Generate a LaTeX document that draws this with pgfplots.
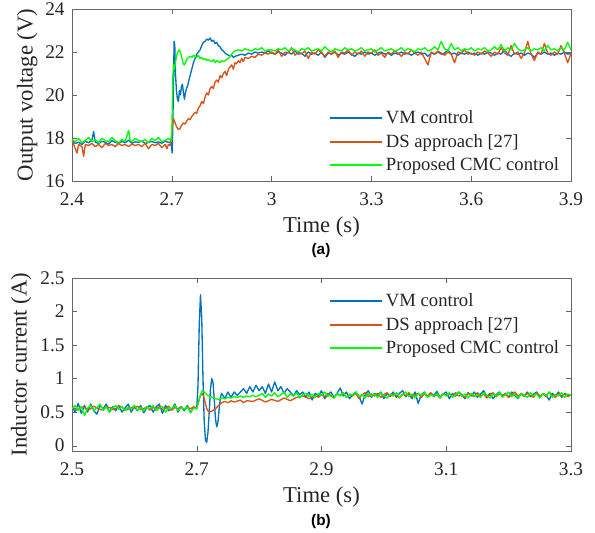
\documentclass[border=0pt]{standalone}
\usepackage{fontspec}
\setmainfont{Liberation Serif}
\newfontfamily\arial{Liberation Sans}
\usepackage{pgfplots}
\pgfplotsset{compat=1.18}
\definecolor{vmblue}{RGB}{0,114,189}
\definecolor{dsorange}{RGB}{217,83,25}
\definecolor{cmcgreen}{RGB}{0,255,0}
\pgfplotsset{
  panel/.style={scale only axis, width=374.25pt,
    axis line style={black!60}, tick style={black!60}, major tick length=4pt,
    tick label style={font=\rmfamily\fontsize{14.5}{16}\selectfont, text=black!85},
    xticklabel style={yshift=-5pt}, yticklabel style={xshift=-2pt},
    label style={font=\rmfamily\fontsize{17}{19}\selectfont, text=black!85},
    xlabel style={at={(axis description cs:0.5,0)}, anchor=center, yshift=-34.5pt},
    legend style={draw=none, fill=none, inner sep=0pt, row sep=2.2pt,
      font=\rmfamily\fontsize{14}{16}\selectfont, text=black!85},
    legend cell align=left,
    legend image code/.code={\draw[##1,line width=1.5pt] (0pt,0pt) -- (39pt,0pt);},
    every axis plot/.append style={line width=1pt, line join=round},
  }
}
\begin{document}
\begin{tikzpicture}
\useasboundingbox (-54pt,-263.25pt) rectangle (392.25pt,135.75pt);
% (a) output voltage
\begin{axis}[panel, at={(0pt,0pt)}, anchor=south west, height=129pt,
  xmin=2.4, xmax=3.9, ymin=16, ymax=24,
  xtick={2.4,2.7,3,3.3,3.6,3.9}, xticklabels={2.4,2.7,3,3.3,3.6,3.9},
  ytick={16,18,20,22,24}, yticklabels={16,18,20,22,24},
  xlabel={Time (s)}, ylabel={Output voltage (V)},
  ylabel style={at={(axis description cs:-0.09,0.5)}, anchor=center},
  legend style={at={(axis description cs:0.515,0.425)}, anchor=north west}]
\addplot[vmblue] coordinates {
(2.40,17.85) (2.41,17.75) (2.42,17.8) (2.43,17.7) (2.44,17.85) (2.45,17.78) (2.46,17.9) (2.465,18.3) (2.47,17.8) (2.48,17.75)
(2.49,17.85) (2.50,17.8) (2.51,17.72) (2.52,17.88) (2.53,17.8) (2.54,17.76) (2.55,17.84) (2.56,17.78) (2.57,17.9) (2.58,17.75)
(2.59,17.82) (2.60,17.8) (2.61,17.86) (2.62,17.74) (2.63,17.8) (2.64,17.84) (2.65,17.78) (2.66,17.82) (2.67,17.76) (2.68,17.85)
(2.69,17.8) (2.698,17.8) (2.701,17.3) (2.703,18.5) (2.705,20.5) (2.707,22.5) (2.709,22.3) (2.711,21.0) (2.714,20.2) (2.717,19.8)
(2.72,19.7) (2.723,20.2) (2.726,20.0) (2.729,20.4) (2.732,20.5) (2.735,20.1) (2.738,19.8) (2.741,20.1) (2.744,20.3) (2.747,20.4)
(2.75,20.6) (2.755,20.9) (2.76,21.2) (2.765,21.5) (2.77,21.7) (2.775,21.9) (2.78,22.0) (2.785,22.1) (2.79,22.3) (2.795,22.45)
(2.80,22.5) (2.805,22.6) (2.81,22.55) (2.815,22.65) (2.82,22.5) (2.825,22.55) (2.83,22.4) (2.835,22.45) (2.84,22.3) (2.845,22.25)
(2.85,22.1) (2.855,22.05) (2.86,21.95) (2.865,21.9) (2.87,21.85) (2.875,21.8) (2.88,21.85) (2.885,21.75) (2.89,21.8) (2.90,21.85)
(2.91,21.9) (2.92,21.85) (2.93,21.95) (2.94,21.9) (2.95,22.0) (2.96,21.95) (2.97,22.0) (2.98,21.95) (2.99,22.05) (3.00,21.95)
(3.01,21.9) (3.02,22.0) (3.03,21.95) (3.04,21.85) (3.05,22.0) (3.06,21.9) (3.07,22.05) (3.08,21.9) (3.09,21.95) (3.10,21.8)
(3.11,22.0) (3.12,21.9) (3.13,21.95) (3.14,21.85) (3.15,22.0) (3.16,21.75) (3.17,21.95) (3.18,21.9) (3.19,22.0) (3.20,21.85)
(3.21,21.95) (3.22,21.9) (3.23,22.0) (3.24,21.9) (3.25,21.8) (3.26,21.95) (3.27,21.9) (3.28,22.0) (3.29,21.9) (3.30,21.95)
(3.31,21.85) (3.32,21.95) (3.33,22.0) (3.34,21.9) (3.35,21.95) (3.36,21.85) (3.37,21.95) (3.38,21.9) (3.39,22.0) (3.40,21.9)
(3.41,21.95) (3.42,21.85) (3.43,21.95) (3.44,22.0) (3.45,21.9) (3.46,21.95) (3.47,21.8) (3.48,21.95) (3.49,21.9) (3.50,22.0)
(3.51,21.9) (3.52,21.95) (3.53,22.1) (3.54,21.9) (3.55,21.95) (3.56,21.85) (3.57,21.95) (3.58,21.9) (3.59,22.0) (3.60,21.9)
(3.61,21.95) (3.62,21.85) (3.63,21.95) (3.64,21.9) (3.65,22.0) (3.66,21.95) (3.67,21.85) (3.68,21.95) (3.69,21.9) (3.70,22.1)
(3.71,21.9) (3.72,21.8) (3.73,21.95) (3.74,21.9) (3.75,21.95) (3.76,21.85) (3.77,21.95) (3.78,21.9) (3.79,21.75) (3.80,21.95)
(3.81,21.9) (3.82,22.0) (3.83,21.9) (3.84,21.95) (3.85,21.85) (3.86,21.95) (3.87,21.9) (3.88,22.0) (3.89,21.9) (3.90,21.95)};
\addlegendentry{VM control}
\addplot[dsorange] coordinates {
(2.40,17.9) (2.41,17.5) (2.415,17.3) (2.42,17.7) (2.43,17.6) (2.435,17.15) (2.44,17.7) (2.45,17.65) (2.46,17.75) (2.47,17.6)
(2.48,17.7) (2.49,17.55) (2.50,17.75) (2.51,17.65) (2.52,17.7) (2.53,17.6) (2.54,17.75) (2.55,17.65) (2.56,17.7) (2.57,17.6)
(2.58,17.72) (2.59,17.65) (2.60,17.7) (2.61,17.6) (2.62,17.75) (2.63,17.5) (2.64,17.7) (2.65,17.65) (2.66,17.75) (2.67,17.55)
(2.68,17.7) (2.685,17.5) (2.69,17.7) (2.695,17.65) (2.70,18.2) (2.702,18.6) (2.705,18.9) (2.71,18.7) (2.715,18.5) (2.72,18.4)
(2.725,18.45) (2.73,18.6) (2.735,18.7) (2.74,18.65) (2.745,18.8) (2.75,18.9) (2.755,18.85) (2.76,19.0) (2.765,19.1) (2.77,19.2)
(2.775,19.15) (2.78,19.4) (2.785,19.5) (2.79,19.7) (2.795,19.6) (2.80,19.9) (2.805,20.1) (2.81,20.0) (2.815,20.3) (2.82,20.4)
(2.825,20.3) (2.83,20.6) (2.835,20.7) (2.84,20.6) (2.845,20.9) (2.85,20.8) (2.855,21.0) (2.86,21.1) (2.865,20.9) (2.87,21.2)
(2.875,21.3) (2.88,21.4) (2.885,21.2) (2.89,21.5) (2.895,21.45) (2.90,21.6) (2.905,21.5) (2.91,21.7) (2.915,21.55) (2.92,21.75)
(2.93,21.7) (2.94,21.8) (2.95,21.75) (2.96,21.9) (2.97,21.85) (2.98,21.95) (2.99,21.9) (3.00,22.0)
(3.01,21.9) (3.02,22.1) (3.03,21.8) (3.04,22.0) (3.05,21.95) (3.06,22.2) (3.07,21.85) (3.08,22.0) (3.09,21.9) (3.10,22.05)
(3.11,21.7) (3.12,22.0) (3.13,21.9) (3.14,22.1) (3.15,21.95) (3.16,21.8) (3.17,22.0) (3.18,21.9) (3.19,22.05) (3.20,21.75)
(3.21,22.0) (3.22,21.95) (3.23,22.1) (3.24,21.85) (3.25,22.0) (3.26,21.9) (3.27,22.05) (3.28,21.8) (3.29,22.0) (3.30,21.95)
(3.31,22.1) (3.32,21.85) (3.33,21.95) (3.34,21.75) (3.35,22.0) (3.36,21.9) (3.37,22.05) (3.38,21.95) (3.39,21.8) (3.40,22.0)
(3.41,21.9) (3.42,22.1) (3.43,21.95) (3.44,21.85) (3.45,22.0) (3.46,21.7) (3.47,21.4) (3.48,22.0) (3.49,21.9) (3.50,22.05)
(3.51,21.95) (3.52,21.85) (3.53,22.0) (3.54,21.9) (3.55,21.5) (3.56,22.0) (3.57,21.95) (3.58,22.1) (3.59,21.9) (3.60,21.95)
(3.61,21.85) (3.62,22.0) (3.63,21.9) (3.64,22.05) (3.65,21.95) (3.66,21.8) (3.67,22.0) (3.68,21.9) (3.69,22.2) (3.70,21.95)
(3.71,21.85) (3.72,22.3) (3.73,21.9) (3.74,22.0) (3.75,21.7) (3.76,21.95) (3.77,22.5) (3.78,21.9) (3.79,21.6) (3.80,22.0)
(3.81,21.9) (3.82,22.4) (3.83,21.95) (3.84,21.85) (3.85,22.0) (3.86,21.9) (3.87,22.3) (3.88,21.95) (3.89,21.5) (3.90,21.95)};
\addlegendentry{DS approach [27]}
\addplot[cmcgreen] coordinates {
(2.40,17.93) (2.41,17.83) (2.42,17.98) (2.43,17.78) (2.44,17.88) (2.45,18.03) (2.46,17.83) (2.47,17.93) (2.48,17.78) (2.49,17.98)
(2.50,17.88) (2.51,17.83) (2.52,18.03) (2.53,17.88) (2.54,17.78) (2.55,17.93) (2.56,17.83) (2.57,18.35) (2.575,17.88) (2.58,17.83)
(2.59,17.98) (2.60,17.88) (2.61,17.83) (2.62,17.93) (2.63,17.78) (2.64,17.98) (2.65,17.88) (2.66,18.03) (2.67,17.83) (2.68,17.88)
(2.69,17.98) (2.699,17.88) (2.701,19.0) (2.703,20.8) (2.705,21.4) (2.708,21.2) (2.711,21.5) (2.714,21.8) (2.717,21.95) (2.72,22.05)
(2.723,22.1) (2.726,22.0) (2.729,21.8) (2.732,21.6) (2.735,21.45) (2.738,21.4) (2.741,21.5) (2.745,21.65) (2.75,21.75) (2.755,21.8)
(2.76,21.75) (2.765,21.85) (2.77,21.8) (2.775,21.75) (2.78,21.85) (2.785,21.7) (2.79,21.75) (2.795,21.65) (2.80,21.7) (2.805,21.6)
(2.81,21.65) (2.815,21.6) (2.82,21.55) (2.825,21.65) (2.83,21.5) (2.835,21.6) (2.84,21.55) (2.845,21.5) (2.85,21.6) (2.855,21.55)
(2.86,21.6) (2.865,21.65) (2.87,21.7) (2.875,21.8) (2.88,21.9) (2.885,22.0) (2.89,22.05) (2.90,22.1) (2.91,22.05) (2.92,22.15)
(2.93,22.1) (2.94,22.05) (2.95,22.15) (2.96,22.1) (2.97,22.2) (2.98,22.05) (2.99,22.1) (3.00,22.1)
(3.01,22.05) (3.02,22.15) (3.03,22.1) (3.04,22.2) (3.05,22.05) (3.06,22.15) (3.07,22.1) (3.08,22.0) (3.09,22.15) (3.10,22.1)
(3.11,22.2) (3.12,22.05) (3.13,22.1) (3.14,22.15) (3.15,22.05) (3.16,22.25) (3.17,22.1) (3.18,22.0) (3.19,22.15) (3.20,22.1)
(3.21,22.05) (3.22,22.2) (3.23,22.1) (3.24,22.15) (3.25,22.05) (3.26,22.1) (3.27,22.2) (3.28,22.05) (3.29,22.1) (3.30,22.15)
(3.31,22.0) (3.32,22.1) (3.33,22.2) (3.34,22.05) (3.35,22.1) (3.36,22.15) (3.37,22.05) (3.38,22.1) (3.39,22.2) (3.40,22.05)
(3.41,22.15) (3.42,22.1) (3.43,22.0) (3.44,22.15) (3.45,22.1) (3.46,22.2) (3.47,22.05) (3.48,22.1) (3.49,22.25) (3.50,22.1)
(3.51,22.5) (3.52,22.15) (3.53,22.05) (3.54,22.4) (3.55,22.1) (3.56,22.2) (3.57,22.05) (3.58,22.15) (3.59,22.1) (3.60,22.2)
(3.61,22.05) (3.62,22.15) (3.63,22.1) (3.64,22.2) (3.65,22.05) (3.66,22.1) (3.67,22.25) (3.68,22.1) (3.69,22.35) (3.70,22.05)
(3.71,22.2) (3.72,22.1) (3.73,22.4) (3.74,22.15) (3.75,22.05) (3.76,22.1) (3.77,22.2) (3.78,22.05) (3.79,22.15) (3.80,22.1)
(3.81,22.2) (3.82,22.05) (3.83,22.3) (3.84,22.1) (3.85,22.15) (3.86,22.05) (3.87,22.2) (3.88,22.1) (3.89,22.45) (3.90,22.1)};
\addlegendentry{Proposed CMC control}
\end{axis}
\node[font=\arial\bfseries\fontsize{11.5}{13}\selectfont] at (186.75pt,-52.5pt) {(a)};
% (b) inductor current
\begin{axis}[panel, at={(0pt,-202.5pt)}, anchor=south west, height=129.75pt,
  xmin=2.5, xmax=3.3, ymin=-0.08, ymax=2.5,
  xtick={2.5,2.7,2.9,3.1,3.3}, xticklabels={2.5,2.7,2.9,3.1,3.3},
  ytick={0,0.5,1,1.5,2,2.5}, yticklabels={0,0.5,1,1.5,2,2.5},
  xlabel={Time (s)}, ylabel={Inductor current (A)},
  ylabel style={at={(axis description cs:-0.102,0.5)}, anchor=center},
  legend style={at={(axis description cs:0.515,0.925)}, anchor=north west}]
\addplot[vmblue] coordinates {
(2.500,0.6) (2.505,0.5) (2.510,0.63) (2.515,0.48) (2.520,0.6) (2.525,0.5) (2.530,0.62) (2.535,0.52) (2.540,0.47) (2.545,0.6)
(2.550,0.55) (2.555,0.62) (2.560,0.5) (2.565,0.58) (2.570,0.52) (2.575,0.6) (2.580,0.5) (2.585,0.56) (2.590,0.62) (2.595,0.5)
(2.600,0.58) (2.605,0.52) (2.610,0.6) (2.615,0.49) (2.620,0.57) (2.625,0.6) (2.630,0.5) (2.635,0.58) (2.640,0.62) (2.645,0.48)
(2.650,0.6) (2.655,0.52) (2.660,0.55) (2.665,0.62) (2.670,0.5) (2.675,0.58) (2.680,0.52) (2.685,0.6) (2.690,0.49) (2.695,0.57)
(2.700,0.55) (2.702,0.9) (2.704,1.8) (2.706,2.25) (2.708,1.9) (2.710,1.0) (2.712,0.35) (2.714,0.08) (2.716,0.05) (2.718,0.2)
(2.720,0.5) (2.722,0.85) (2.724,1.0) (2.726,0.95) (2.728,0.7) (2.730,0.4) (2.732,0.28) (2.734,0.35) (2.736,0.55) (2.738,0.72)
(2.740,0.78) (2.745,0.7) (2.750,0.8) (2.755,0.72) (2.760,0.8) (2.765,0.75) (2.770,0.8) (2.775,0.85) (2.780,0.78) (2.785,0.88)
(2.790,0.8) (2.795,0.9) (2.800,0.82) (2.805,0.88) (2.810,0.78) (2.815,0.92) (2.820,0.8) (2.825,0.95) (2.830,0.82) (2.835,0.88)
(2.840,0.78) (2.845,0.85) (2.850,0.8) (2.855,0.74) (2.860,0.82) (2.865,0.76) (2.870,0.8)
(2.875,0.72) (2.880,0.8) (2.885,0.68) (2.890,0.78) (2.895,0.74) (2.900,0.82) (2.905,0.7) (2.910,0.76) (2.915,0.8) (2.920,0.72)
(2.925,0.78) (2.930,0.86) (2.935,0.74) (2.940,0.8) (2.945,0.7) (2.950,0.76) (2.955,0.8) (2.960,0.74) (2.965,0.62) (2.970,0.76)
(2.975,0.82) (2.980,0.72) (2.985,0.78) (2.990,0.75) (2.995,0.8) (3.000,0.7) (3.005,0.78) (3.010,0.74) (3.015,0.8) (3.020,0.72)
(3.025,0.78) (3.030,0.82) (3.035,0.73) (3.040,0.77) (3.045,0.7) (3.050,0.8) (3.055,0.63) (3.060,0.76) (3.065,0.8) (3.070,0.73)
(3.075,0.78) (3.080,0.75) (3.085,0.81) (3.090,0.72) (3.095,0.77) (3.100,0.8) (3.105,0.7) (3.110,0.78) (3.115,0.74) (3.120,0.8)
(3.125,0.76) (3.130,0.7) (3.135,0.79) (3.140,0.74) (3.145,0.8) (3.150,0.72) (3.155,0.77) (3.160,0.82) (3.165,0.73) (3.170,0.78)
(3.175,0.7) (3.180,0.76) (3.185,0.8) (3.190,0.74) (3.195,0.78) (3.200,0.72) (3.205,0.8) (3.210,0.75) (3.215,0.7) (3.220,0.78)
(3.225,0.74) (3.230,0.8) (3.235,0.73) (3.240,0.77) (3.245,0.8) (3.250,0.72) (3.255,0.78) (3.260,0.75) (3.265,0.68) (3.270,0.78)
(3.275,0.74) (3.280,0.8) (3.285,0.72) (3.290,0.78) (3.295,0.75) (3.300,0.76)};
\addlegendentry{VM control}
\addplot[dsorange] coordinates {
(2.50,0.58) (2.505,0.55) (2.51,0.54) (2.515,0.58) (2.52,0.57) (2.525,0.53) (2.53,0.55) (2.535,0.59) (2.54,0.56) (2.545,0.54)
(2.55,0.53) (2.555,0.58) (2.56,0.57) (2.565,0.54) (2.57,0.55) (2.575,0.59) (2.58,0.58) (2.585,0.53) (2.59,0.54) (2.595,0.57)
(2.60,0.56) (2.605,0.59) (2.61,0.54) (2.615,0.55) (2.62,0.58) (2.625,0.53) (2.63,0.57) (2.635,0.55) (2.64,0.58) (2.645,0.54)
(2.65,0.56) (2.655,0.59) (2.66,0.53) (2.665,0.57) (2.67,0.55) (2.675,0.58) (2.68,0.54) (2.685,0.57) (2.69,0.55) (2.695,0.58)
(2.70,0.56) (2.702,0.62) (2.705,0.72) (2.708,0.78) (2.711,0.74) (2.714,0.62) (2.717,0.53) (2.72,0.5) (2.725,0.52) (2.73,0.55)
(2.735,0.6) (2.74,0.64) (2.745,0.66) (2.75,0.64) (2.755,0.67) (2.76,0.65) (2.77,0.68) (2.775,0.64) (2.78,0.67) (2.79,0.66)
(2.80,0.7) (2.81,0.65) (2.82,0.69) (2.83,0.66) (2.84,0.71) (2.85,0.67) (2.86,0.72) (2.87,0.74) (2.88,0.7) (2.89,0.75)
(2.895,0.72) (2.90,0.76) (2.905,0.73) (2.91,0.78) (2.915,0.74) (2.92,0.71) (2.925,0.77) (2.93,0.75) (2.935,0.79) (2.94,0.72)
(2.945,0.76) (2.95,0.74) (2.955,0.78) (2.96,0.7) (2.965,0.76) (2.97,0.79) (2.975,0.73) (2.98,0.77) (2.985,0.74) (2.99,0.78)
(2.995,0.72) (3.00,0.76) (3.005,0.79) (3.01,0.73) (3.015,0.77) (3.02,0.75) (3.025,0.71) (3.03,0.77) (3.035,0.74) (3.04,0.79)
(3.045,0.73) (3.05,0.76) (3.055,0.78) (3.06,0.72) (3.065,0.77) (3.07,0.74) (3.075,0.79) (3.08,0.73) (3.085,0.76) (3.09,0.71)
(3.095,0.78) (3.10,0.75) (3.105,0.77) (3.11,0.73) (3.115,0.79) (3.12,0.74) (3.125,0.76) (3.13,0.72) (3.135,0.78) (3.14,0.75)
(3.145,0.73) (3.15,0.79) (3.155,0.74) (3.16,0.77) (3.165,0.71) (3.17,0.76) (3.175,0.79) (3.18,0.73) (3.185,0.77) (3.19,0.75)
(3.195,0.78) (3.20,0.72) (3.205,0.76) (3.21,0.8) (3.215,0.74) (3.22,0.77) (3.225,0.73) (3.23,0.78) (3.235,0.75) (3.24,0.72)
(3.245,0.79) (3.25,0.74) (3.255,0.77) (3.26,0.73) (3.265,0.8) (3.27,0.75) (3.275,0.72) (3.28,0.78) (3.285,0.74) (3.29,0.77)
(3.295,0.73) (3.30,0.76)};
\addlegendentry{DS approach [27]}
\addplot[cmcgreen] coordinates {
(2.500,0.55) (2.505,0.6) (2.51,0.52) (2.515,0.58) (2.52,0.45) (2.525,0.56) (2.53,0.6) (2.535,0.52) (2.54,0.57) (2.545,0.62)
(2.55,0.53) (2.555,0.58) (2.56,0.5) (2.565,0.56) (2.57,0.6) (2.575,0.54) (2.58,0.58) (2.585,0.52) (2.59,0.57) (2.595,0.55)
(2.60,0.6) (2.605,0.53) (2.61,0.57) (2.615,0.52) (2.62,0.58) (2.625,0.55) (2.63,0.6) (2.635,0.52) (2.64,0.56) (2.645,0.58)
(2.65,0.5) (2.655,0.57) (2.66,0.55) (2.665,0.6) (2.67,0.52) (2.675,0.57) (2.68,0.54) (2.685,0.58) (2.69,0.5) (2.695,0.56)
(2.70,0.55) (2.703,0.66) (2.706,0.76) (2.709,0.82) (2.712,0.8) (2.716,0.76) (2.72,0.74) (2.725,0.72) (2.73,0.7) (2.735,0.69)
(2.74,0.71) (2.745,0.7) (2.75,0.72) (2.755,0.71) (2.76,0.73) (2.765,0.72) (2.77,0.74) (2.775,0.72) (2.78,0.74) (2.785,0.73)
(2.79,0.75) (2.795,0.73) (2.80,0.75)
(2.805,0.78) (2.81,0.72) (2.815,0.77) (2.82,0.74) (2.825,0.79) (2.83,0.73) (2.835,0.76) (2.84,0.8) (2.845,0.72) (2.85,0.77)
(2.855,0.74) (2.86,0.79) (2.865,0.71) (2.87,0.76) (2.875,0.78) (2.88,0.73) (2.885,0.77) (2.89,0.72) (2.895,0.78) (2.90,0.75)
(2.905,0.8) (2.91,0.73) (2.915,0.76) (2.92,0.71) (2.925,0.78) (2.93,0.74) (2.935,0.79) (2.94,0.72) (2.945,0.77) (2.95,0.75)
(2.955,0.8) (2.96,0.73) (2.965,0.76) (2.97,0.71) (2.975,0.78) (2.98,0.74) (2.985,0.77) (2.99,0.72) (2.995,0.79) (3.00,0.75)
(3.005,0.71) (3.01,0.77) (3.015,0.74) (3.02,0.79) (3.025,0.72) (3.03,0.76) (3.035,0.8) (3.04,0.73) (3.045,0.77) (3.05,0.71)
(3.055,0.78) (3.06,0.75) (3.065,0.79) (3.07,0.72) (3.075,0.76) (3.08,0.74) (3.085,0.78) (3.09,0.71) (3.095,0.77) (3.10,0.74)
(3.105,0.79) (3.11,0.72) (3.115,0.76) (3.12,0.8) (3.125,0.73) (3.13,0.77) (3.135,0.71) (3.14,0.78) (3.145,0.74) (3.15,0.76)
(3.155,0.72) (3.16,0.79) (3.165,0.75) (3.17,0.71) (3.175,0.77) (3.18,0.74) (3.185,0.79) (3.19,0.72) (3.195,0.76) (3.20,0.8)
(3.205,0.73) (3.21,0.77) (3.215,0.71) (3.22,0.78) (3.225,0.75) (3.23,0.72) (3.235,0.79) (3.24,0.74) (3.245,0.77) (3.25,0.71)
(3.255,0.78) (3.26,0.75) (3.265,0.8) (3.27,0.72) (3.275,0.76) (3.28,0.74) (3.285,0.79) (3.29,0.72) (3.295,0.77) (3.30,0.75)};
\addlegendentry{Proposed CMC control}
\end{axis}
\node[font=\arial\bfseries\fontsize{11.5}{13}\selectfont] at (186.75pt,-255.75pt) {(b)};
\end{tikzpicture}
\end{document}
